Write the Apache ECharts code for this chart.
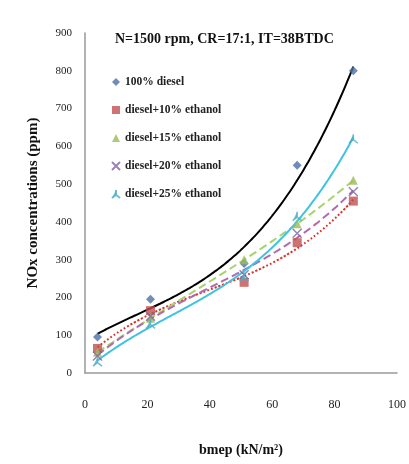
<!DOCTYPE html>
<html>
<head>
<meta charset="utf-8">
<script src="https://cdn.jsdelivr.net/npm/echarts@6/dist/echarts.min.js"></script>
<style>html,body{margin:0;padding:0;background:#fff}#c{width:409px;height:464px}</style>
</head>
<body>
<div id="c"></div>
<script>
var bmep = [4, 21, 51, 68, 86];
var seriesNames = ['100% diesel', 'diesel+10% ethanol', 'diesel+15% ethanol', 'diesel+20% ethanol', 'diesel+25% ethanol'];
var diesel = [95, 195, 290, 550, 800];
var eth10 = [65, 165, 240, 345, 455];
var eth15 = [55, 145, 300, 395, 510];
var eth20 = [45, 150, 260, 370, 480];
var eth25 = [30, 130, 255, 415, 620];
var yTicks = [0, 100, 200, 300, 400, 500, 600, 700, 800, 900];
var xTicks = [0, 20, 40, 60, 80, 100];

var markerColors = ['#4F6FA8', '#C0504D', '#9BBB59', '#8064A2', '#4BACC6'];
var lineColors = ['#000000', '#D9302A', '#A6D46A', '#B06AB0', '#3FC4E0'];
var lineTypes = ['solid', 'dotted', 'dashed', 'dashed', 'solid'];
var symbols = ['diamond', 'rect', 'triangle', 'path://M0,0L10,10M10,0L0,10', 'path://M5,0L5,6L0,10M5,6L10,10'];
var allData = [diesel, eth10, eth15, eth20, eth25];

function cubicFit(xs, ys) {
  var n = 4, A = [], b = [];
  for (var i = 0; i < n; i++) { A.push([0,0,0,0]); b.push(0); }
  for (var k = 0; k < xs.length; k++) {
    for (var i = 0; i < n; i++) {
      b[i] += ys[k] * Math.pow(xs[k], i);
      for (var j = 0; j < n; j++) A[i][j] += Math.pow(xs[k], i + j);
    }
  }
  for (var i = 0; i < n; i++) {
    var p = i;
    for (var r = i + 1; r < n; r++) if (Math.abs(A[r][i]) > Math.abs(A[p][i])) p = r;
    var t = A[i]; A[i] = A[p]; A[p] = t; var tb = b[i]; b[i] = b[p]; b[p] = tb;
    for (var r = i + 1; r < n; r++) {
      var f = A[r][i] / A[i][i];
      for (var c = i; c < n; c++) A[r][c] -= f * A[i][c];
      b[r] -= f * b[i];
    }
  }
  var co = [0,0,0,0];
  for (var i = n - 1; i >= 0; i--) {
    var s = b[i];
    for (var c = i + 1; c < n; c++) s -= A[i][c] * co[c];
    co[i] = s / A[i][i];
  }
  return co;
}

var series = [];
allData.forEach(function (vals, idx) {
  var co = cubicFit(bmep, vals);
  var pts = [];
  for (var x = bmep[0]; x <= bmep[bmep.length - 1] + 0.001; x += 1) {
    pts.push([x, co[0] + co[1] * x + co[2] * x * x + co[3] * x * x * x]);
  }
  series.push({
    type: 'line', name: 'trend' + idx, data: pts, showSymbol: false, smooth: true,
    silent: true, z: 2,
    lineStyle: { color: lineColors[idx], width: 2, type: lineTypes[idx] }
  });
});
allData.forEach(function (vals, idx) {
  series.push({
    type: 'scatter', name: seriesNames[idx],
    data: bmep.map(function (x, i) { return [x, vals[i]]; }),
    symbol: symbols[idx], symbolSize: 9, z: 3,
    itemStyle: idx >= 3 ? { color: markerColors[idx], borderColor: markerColors[idx], borderWidth: 1.5 } : { color: markerColors[idx] }
  });
});

var chart = echarts.init(document.getElementById('c'));
chart.setOption({
  animation: false,
  backgroundColor: '#fff',
  title: {
    text: 'N=1500 rpm, CR=17:1, IT=38BTDC',
    left: 110, top: 27,
    textStyle: { fontFamily: 'Liberation Serif', fontSize: 14, fontWeight: 'bold', color: '#111' }
  },
  legend: {
    data: seriesNames, orient: 'vertical', left: 106, top: 71, itemGap: 16,
    itemWidth: 8, itemHeight: 8,
    textStyle: { fontFamily: 'Liberation Serif', fontSize: 11.5, color: '#222', fontWeight: 'bold' }
  },
  grid: { left: 85, right: -1, top: 33, bottom: 91 },
  xAxis: {
    type: 'value', min: xTicks[0], max: xTicks[xTicks.length - 1], interval: 20,
    name: 'bmep (kN/m²)', nameLocation: 'middle', nameGap: 70,
    nameTextStyle: { fontFamily: 'Liberation Serif', fontSize: 14, fontWeight: 'bold', color: '#111' },
    axisLine: { lineStyle: { color: '#999', width: 1.5 } },
    axisTick: { show: false }, splitLine: { show: false },
    axisLabel: { fontFamily: 'Liberation Serif', fontSize: 12, color: '#222', margin: 26 }
  },
  yAxis: {
    type: 'value', min: yTicks[0], max: yTicks[yTicks.length - 1], interval: 100,
    name: 'NOx concentrations (ppm)', nameLocation: 'middle', nameGap: 44, nameRotate: 90,
    nameTextStyle: { fontFamily: 'Liberation Serif', fontSize: 15, fontWeight: 'bold', color: '#111' },
    axisLine: { show: true, lineStyle: { color: '#999', width: 1.5 } },
    axisTick: { show: false }, splitLine: { show: false },
    axisLabel: { fontFamily: 'Liberation Serif', fontSize: 11, color: '#222', margin: 13 }
  },
  series: series
});
</script>
</body>
</html>
